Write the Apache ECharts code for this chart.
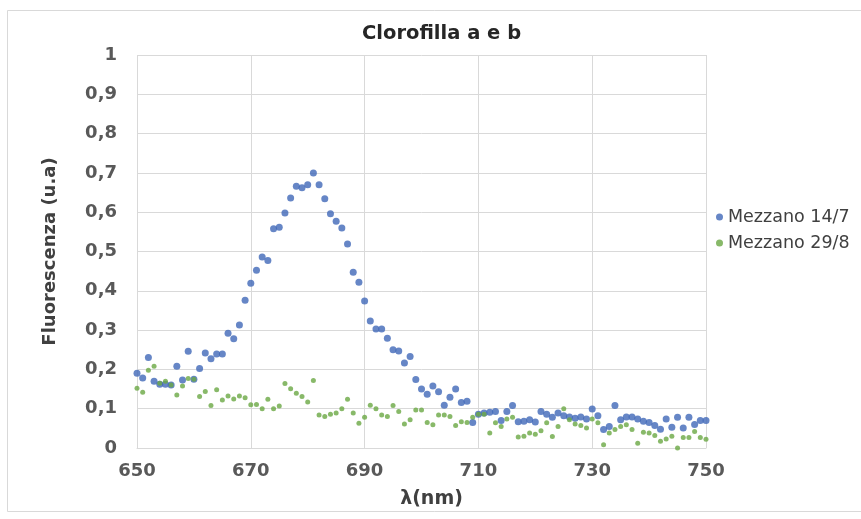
<!DOCTYPE html>
<html>
<head>
<meta charset="utf-8">
<script src="https://cdn.jsdelivr.net/npm/echarts@6/dist/echarts.min.js"></script>
<style>html,body{margin:0;padding:0;background:#fff}#c{width:861px;height:519px}</style>
</head>
<body>
<div id="c"></div>
<script>
const wavelengthStart = 650;
const seriesNames = ['Mezzano 14/7', 'Mezzano 29/8'];
const mezzano147 = [
0.19,0.178,0.23,0.17,0.162,0.162,0.16,0.208,0.173,0.246,
0.175,0.202,0.242,0.227,0.239,0.239,0.292,0.278,0.313,0.376,
0.419,0.452,0.486,0.477,0.558,0.562,0.598,0.636,0.666,0.662,
0.670,0.700,0.670,0.634,0.596,0.577,0.560,0.519,0.447,0.422,
0.374,0.323,0.303,0.303,0.279,0.25,0.247,0.216,0.233,0.174,
0.15,0.137,0.158,0.143,0.109,0.129,0.15,0.116,0.119,0.065,
0.086,0.089,0.091,0.093,0.07,0.093,0.108,0.067,0.068,0.072,
0.066,0.093,0.086,0.078,0.089,0.082,0.079,0.076,0.079,0.074,
0.099,0.082,0.047,0.055,0.108,0.072,0.079,0.079,0.074,0.068,
0.065,0.057,0.048,0.074,0.053,0.078,0.051,0.078,0.06,0.07,
0.07];
const mezzano298 = [
0.152,0.142,0.198,0.208,0.165,0.17,0.16,0.135,0.158,0.177,
0.175,0.131,0.144,0.108,0.148,0.122,0.132,0.125,0.132,0.128,
0.11,0.111,0.10,0.124,0.10,0.107,0.164,0.151,0.139,0.131,
0.117,0.172,0.084,0.08,0.086,0.089,0.10,0.124,0.089,0.063,
0.078,0.109,0.10,0.084,0.08,0.108,0.093,0.061,0.072,0.097,
0.097,0.065,0.059,0.084,0.084,0.08,0.057,0.067,0.065,0.078,
0.086,0.086,0.038,0.064,0.055,0.074,0.078,0.028,0.03,0.038,
0.035,0.044,0.064,0.029,0.055,0.10,0.072,0.061,0.057,0.051,
0.074,0.064,0.008,0.038,0.047,0.055,0.059,0.047,0.012,0.04,
0.038,0.032,0.017,0.023,0.03,0.0,0.027,0.027,0.042,0.027,
0.022];

function pairs(arr){ return arr.map((v,i)=>[wavelengthStart+i, v]); }

const font = '"DejaVu Sans", Verdana, sans-serif';
const chart = echarts.init(document.getElementById('c'), null, {renderer:'canvas'});
chart.setOption({
  animation:false,
  backgroundColor:'#fff',
  graphic:[{type:'rect', shape:{x:7.5,y:10.5,width:870,height:501}, style:{fill:'none', stroke:'#d9d9d9', lineWidth:1}}],
  title:{text:'Clorofilla a e b', left:357, top:19,
    textStyle:{fontFamily:font, fontSize:19.5, fontWeight:'bold', color:'#262626'}},
  legend:{orient:'vertical', left:711, top:203, itemGap:8, itemWidth:7, itemHeight:7,
    data:[{name:seriesNames[0], icon:'circle'},{name:seriesNames[1], icon:'circle'}],
    textStyle:{fontFamily:font, fontSize:17.5, color:'#404040'}},
  grid:{left:137, right:155, top:55, bottom:71},
  xAxis:{type:'value', min:650, max:750, interval:20,
    name:'λ(nm)', nameLocation:'middle', nameGap:42,
    nameTextStyle:{fontFamily:font, fontSize:19, fontWeight:'bold', color:'#404040', padding:[0,0,0,20]},
    axisLine:{lineStyle:{color:'#d9d9d9'}}, axisTick:{show:false},
    axisLabel:{fontFamily:font, fontSize:18, fontWeight:'bold', color:'#595959', margin:14},
    splitLine:{show:true, lineStyle:{color:'#d9d9d9'}}},
  yAxis:{type:'value', min:0, max:1, interval:0.1,
    name:'Fluorescenza (u.a)', nameLocation:'middle', nameGap:78, nameRotate:90,
    nameTextStyle:{fontFamily:font, fontSize:18, fontWeight:'bold', color:'#404040'},
    axisLine:{show:false}, axisTick:{show:false},
    axisLabel:{fontFamily:font, fontSize:18, fontWeight:'bold', color:'#595959', margin:20,
      formatter:v=>String(Math.round(v*10)/10).replace('.',',')},
    splitLine:{show:true, lineStyle:{color:'#d9d9d9'}}},
  series:[
    {name:seriesNames[0], type:'scatter', symbol:'circle', symbolSize:7, data:pairs(mezzano147),
      itemStyle:{color:'#4068b8'}},
    {name:seriesNames[1], type:'scatter', symbol:'circle', symbolSize:5, data:pairs(mezzano298),
      itemStyle:{color:'#6aa843'}}
  ]
});
</script>
</body>
</html>
